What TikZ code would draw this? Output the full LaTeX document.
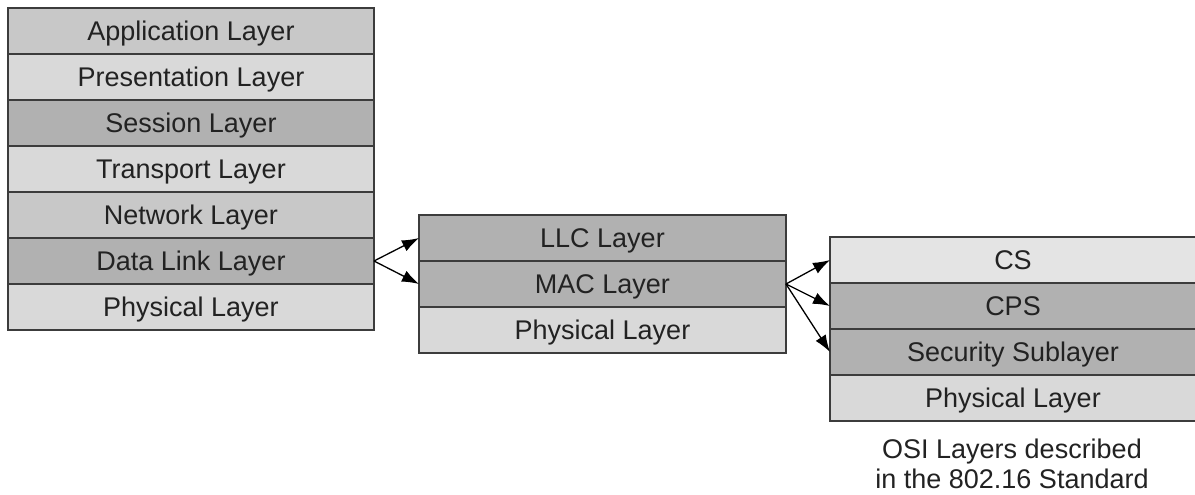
\documentclass[tikz,border=0pt]{standalone}
\usepackage{fontspec}
\setmainfont{Liberation Sans}
\usetikzlibrary{arrows.meta}
\definecolor{edge}{HTML}{3C3C3C}
\definecolor{ink}{HTML}{222222}
\definecolor{gMid}{HTML}{C8C8C8}
\definecolor{gLight}{HTML}{D9D9D9}
\definecolor{gDark}{HTML}{B1B1B1}
\definecolor{gPale}{HTML}{E4E4E4}
\tikzset{
  layerbox/.style={draw=edge, line width=1.6pt, rectangle, anchor=north west,
    minimum height=46pt, inner sep=0pt, outer sep=0pt, text=ink,
    text height=19pt, text depth=0pt,
    font=\fontsize{27}{32}\selectfont},
  leftbox/.style={layerbox, minimum width=366pt},
  midbox/.style={layerbox, minimum width=367pt},
  rightbox/.style={layerbox, minimum width=366pt},
  link/.style={draw=black, line width=1.3pt, -{Latex[length=17pt,width=12pt]}},
  caption/.style={text=ink, align=center, font=\fontsize{27}{30}\selectfont}
}
\begin{document}
\begin{tikzpicture}[x=1pt, y=-1pt]
\useasboundingbox (0,0) rectangle (1195,495);

% OSI reference model
\node[leftbox, fill=gMid]   (app)  at (8,8)   {Application Layer};
\node[leftbox, fill=gLight] (pres) at (8,54)  {Presentation Layer};
\node[leftbox, fill=gDark]  (sess) at (8,100) {Session Layer};
\node[leftbox, fill=gLight] (tran) at (8,146) {Transport Layer};
\node[leftbox, fill=gMid]   (netw) at (8,192) {Network Layer};
\node[leftbox, fill=gDark]  (dl)   at (8,238) {Data Link Layer};
\node[leftbox, fill=gLight] (phy1) at (8,284) {Physical Layer};

% Data link split into LLC and MAC
\node[midbox, fill=gDark]  (llc)  at (419,215) {LLC Layer};
\node[midbox, fill=gDark]  (mac)  at (419,261) {MAC Layer};
\node[midbox, fill=gLight] (phy2) at (419,307) {Physical Layer};

% 802.16 layers
\node[rightbox, fill=gPale]  (cs)   at (830,237) {CS};
\node[rightbox, fill=gDark]  (cps)  at (830,283) {CPS};
\node[rightbox, fill=gDark]  (sec)  at (830,329) {Security Sublayer};
\node[rightbox, fill=gLight] (phy3) at (830,375) {Physical Layer};

\node[caption] (cap) at (1012,464) {OSI Layers described\\in the 802.16 Standard};

% connectors
\draw[link] (dl.east) -- (llc.west);
\draw[link] (dl.east) -- (mac.west);
\draw[link] (mac.east) -- (cs.west);
\draw[link] (mac.east) -- (cps.west);
\draw[link] (mac.east) -- (sec.west);
\end{tikzpicture}
\end{document}
